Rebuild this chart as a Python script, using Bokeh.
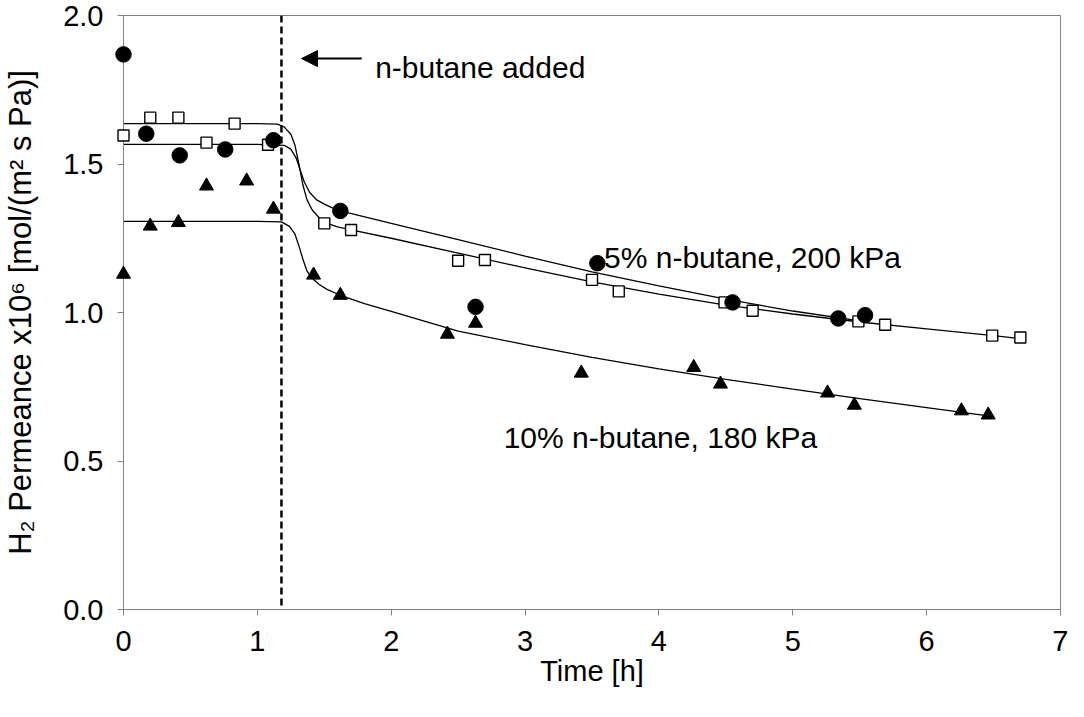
from bokeh.plotting import figure
from bokeh.models import Span, Arrow, NormalHead, FixedTicker, PrintfTickFormatter, Label
from bokeh.embed import file_html
from bokeh.resources import INLINE

FONT = "Liberation Sans"

# ---- measured data: 5% n-butane, 200 kPa (filled circles) ----
circ_x = [0.0, 0.17, 0.42, 0.76, 1.12, 1.62, 2.63, 3.54, 4.55, 5.34, 5.54]
circ_y = [1.869, 1.602, 1.529, 1.549, 1.580, 1.342, 1.019, 1.166, 1.034, 0.980, 0.991]

# ---- measured data: open squares ----
sq_x = [0.0, 0.2, 0.41, 0.62, 0.83, 1.08, 1.5, 1.7, 2.5, 2.7, 3.5, 3.7, 4.49, 4.7, 5.49, 5.69, 6.49, 6.7]
sq_y = [1.596, 1.656, 1.656, 1.572, 1.636, 1.565, 1.300, 1.278, 1.174, 1.177, 1.110, 1.071,
        1.034, 1.006, 0.970, 0.959, 0.922, 0.916]

# ---- measured data: 10% n-butane, 180 kPa (filled triangles) ----
tri_x = [0.0, 0.2, 0.41, 0.62, 0.92, 1.12, 1.42, 1.62, 2.42, 2.63, 3.42, 4.26, 4.46, 5.26, 5.46, 6.26, 6.46]
tri_y = [1.129, 1.291, 1.303, 1.426, 1.443, 1.348, 1.126, 1.058, 0.927, 0.964, 0.796, 0.815,
         0.759, 0.729, 0.688, 0.669, 0.655]

# ---- fitted curves ----
sq_fit_x = [0.0, 0.5, 1.0, 1.15, 1.2, 1.25, 1.28, 1.31, 1.34, 1.37, 1.41, 1.46, 1.52, 1.6, 1.7,
            2.0, 2.5, 3.0, 3.5, 4.0, 4.5, 5.0, 5.5, 6.0, 6.5, 6.7]
sq_fit_y = [1.636, 1.636, 1.636, 1.634, 1.625, 1.600, 1.565, 1.500, 1.430, 1.380, 1.345, 1.320,
            1.300, 1.288, 1.278, 1.250, 1.200, 1.150, 1.103, 1.062, 1.025, 0.995, 0.968, 0.945,
            0.922, 0.912]

circ_fit_x = [0.0, 0.5, 1.0, 1.2, 1.25, 1.29, 1.32, 1.35, 1.39, 1.44, 1.5, 1.56, 1.62,
              2.0, 2.5, 3.0, 3.5, 4.0, 4.5, 5.0, 5.5]
circ_fit_y = [1.566, 1.566, 1.566, 1.563, 1.550, 1.520, 1.480, 1.440, 1.405, 1.380, 1.365, 1.352,
              1.342, 1.300, 1.245, 1.190, 1.137, 1.090, 1.045, 1.005, 0.972]

tri_fit_x = [0.0, 0.5, 1.0, 1.18, 1.24, 1.28, 1.31, 1.34, 1.37, 1.41, 1.46, 1.52, 1.62, 1.8,
             2.0, 2.5, 3.0, 3.5, 4.0, 4.5, 5.0, 5.5, 6.0, 6.46]
tri_fit_y = [1.307, 1.307, 1.307, 1.305, 1.290, 1.265, 1.225, 1.180, 1.140, 1.115, 1.095, 1.078,
             1.058, 1.030, 1.004, 0.937, 0.892, 0.849, 0.810, 0.775, 0.742, 0.710, 0.680, 0.652]

x_ticks = [0, 1, 2, 3, 4, 5, 6, 7]
y_ticks = [0.0, 0.5, 1.0, 1.5, 2.0]

event_time = 1.18          # n-butane added
event_label = "n-butane added"
label_5 = "5% n-butane, 200 kPa"
label_10 = "10% n-butane, 180 kPa"

GRAY = "#808080"

p = figure(width=1068, height=700, x_range=(0, 7), y_range=(0, 2),
           output_backend="svg", toolbar_location=None,
           min_border_left=120, min_border_right=8, min_border_top=15, min_border_bottom=91)
p.background_fill_color = "white"
p.border_fill_color = "white"
p.outline_line_color = GRAY
p.outline_line_width = 1
p.xgrid.visible = False
p.ygrid.visible = False

for ax in (p.xaxis[0], p.yaxis[0]):
    ax.axis_line_color = GRAY
    ax.axis_line_width = 1
    ax.major_tick_line_color = GRAY
    ax.major_tick_out = 6
    ax.major_tick_in = 0
    ax.minor_tick_line_color = None
    ax.major_label_text_font = FONT
    ax.major_label_text_font_size = "29px"
    ax.major_label_text_color = "black"
    ax.axis_label_text_font = FONT
    ax.axis_label_text_font_style = "normal"
    ax.axis_label_text_color = "black"

p.xaxis.axis_label_text_font_size = "29px"
p.yaxis.axis_label_text_font_size = "31px"
p.xaxis.ticker = FixedTicker(ticks=x_ticks)
p.yaxis.ticker = FixedTicker(ticks=y_ticks)
p.yaxis.formatter = PrintfTickFormatter(format="%.1f")
p.xaxis.major_label_standoff = 15
p.yaxis.major_label_standoff = 14
p.xaxis.axis_label = "Time [h]"
p.yaxis.axis_label = "H\u2082 Permeance x10\u2076 [mol/(m\u00b2 s Pa)]"
p.xaxis.axis_label_standoff = 1
p.yaxis.axis_label_standoff = 22

# event line
p.add_layout(Span(location=event_time, dimension="height", line_color="black",
                  line_width=2.5, line_dash="7 4"))

# fitted curves
p.line(sq_fit_x, sq_fit_y, line_color="black", line_width=1.3)
p.line(circ_fit_x, circ_fit_y, line_color="black", line_width=1.3)
p.line(tri_fit_x, tri_fit_y, line_color="black", line_width=1.3)

# markers
r1 = p.scatter(sq_x, sq_y, marker="square", size=11, fill_color="white",
               line_color="black", line_width=1.4)
r2 = p.scatter(circ_x, circ_y, marker="circle", size=15.5, fill_color="black", line_color="black")
r3 = p.scatter(tri_x, tri_y, marker="triangle", size=14, fill_color="black", line_color="black")
for r in (r1, r2, r3):
    r.level = "overlay"

# annotations
p.add_layout(Arrow(end=NormalHead(size=16, fill_color="black", line_color="black"),
                   x_start=1.78, y_start=1.855, x_end=1.33, y_end=1.855,
                   line_color="black", line_width=2))
p.add_layout(Label(x=1.88, y=1.826, text=event_label, text_font=FONT,
                   text_font_size="30px", text_color="black", text_baseline="alphabetic"))
p.add_layout(Label(x=3.59, y=1.185, text=label_5, text_font=FONT,
                   text_font_size="30px", text_color="black", text_baseline="alphabetic"))
p.add_layout(Label(x=2.84, y=0.580, text=label_10, text_font=FONT,
                   text_font_size="30px", text_color="black", text_baseline="alphabetic"))

open("out.html", "w").write(file_html(p, INLINE))
